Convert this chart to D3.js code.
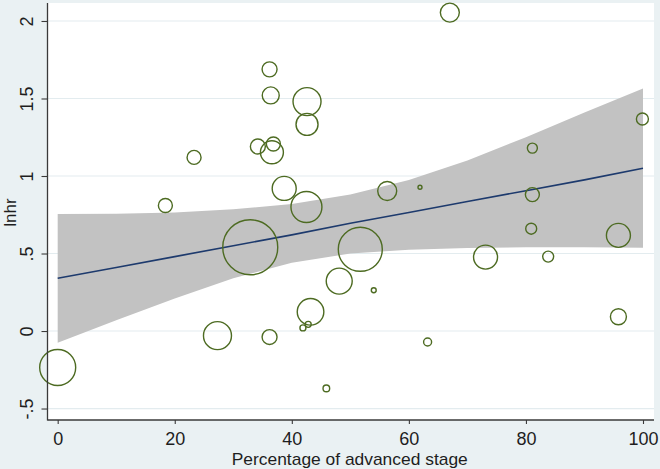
<!DOCTYPE html>
<html>
<head>
<meta charset="utf-8">
<script src="https://cdn.jsdelivr.net/npm/d3@7"></script>
<style>
  html, body { margin: 0; padding: 0; background: #eaf1f3; }
  svg { display: block; }
  text { font-family: "Liberation Sans", Arial, sans-serif; fill: #1e1e1e; }
</style>
</head>
<body>
<svg id="chart" width="660" height="469"></svg>
<script>
// ---- data ----
const pctAdvanced = [0, 18.4, 23.3, 27.3, 32.9, 34.2, 36.2, 36.4, 36.85, 36.6, 36.2, 38.7, 42.6, 42.6, 42.5, 43.2, 41.9, 42.8, 45.9, 48.1, 51.7, 54.0, 56.3, 61.9, 63.2, 67.0, 73.1, 81.1, 81.1, 80.9, 83.8, 95.8, 95.8, 99.9];
const lnhr = [-0.235, 0.81, 1.12, -0.03, 0.54, 1.19, 1.688, 1.52, 1.206, 1.153, -0.039, 0.92, 1.48, 1.333, 0.80, 0.124, 0.02, 0.043, -0.37, 0.322, 0.527, 0.263, 0.903, 0.927, -0.071, 2.054, 0.477, 1.18, 0.88, 0.66, 0.48, 0.617, 0.092, 1.368];
const weight = [324, 49, 49, 196, 756, 56, 56, 72, 49, 132, 56, 144, 196, 121, 240, 177, 9, 9, 11, 169, 484, 6, 90, 4, 16, 90, 144, 25, 49, 30, 30, 144, 64, 36];

const fitX = [0, 10, 20, 30, 40, 50, 60, 70, 80, 90, 100];
const fitY = [0.34, 0.41, 0.48, 0.55, 0.62, 0.695, 0.765, 0.835, 0.905, 0.975, 1.05];
const ciUpper = [0.755, 0.757, 0.765, 0.785, 0.82, 0.88, 0.975, 1.10, 1.25, 1.41, 1.565];
const ciLower = [-0.075, 0.07, 0.21, 0.34, 0.44, 0.50, 0.525, 0.535, 0.54, 0.54, 0.537];

const xTicks = [0, 20, 40, 60, 80, 100];
const yTicks = [-0.5, 0, 0.5, 1, 1.5, 2];
const yTickLabels = ["-.5", "0", ".5", "1", "1.5", "2"];
const xTitle = "Percentage of advanced stage";
const yTitle = "lnhr";

// ---- layout ----
const svg = d3.select("#chart");
const L = 47.5, R = 654, T = 3, B = 420;

const x = d3.scaleLinear().domain([-1.74, 101.88]).range([L, R]);
const y = d3.scaleLinear().domain([-0.574, 2.116]).range([B, T]);
const r = d3.scaleSqrt().domain([0, 100]).range([0, 10]);

// plot background
svg.append("rect").attr("x", L).attr("y", T).attr("width", R - L).attr("height", B - T).attr("fill", "#ffffff");

// gridlines
svg.append("g").selectAll("line").data(yTicks).join("line")
  .attr("x1", L).attr("x2", R)
  .attr("y1", d => y(d)).attr("y2", d => y(d))
  .attr("stroke", "#e3ecef").attr("stroke-width", 1.2);

// CI band
const band = fitX.map((v, i) => ({x: v, lo: ciLower[i], hi: ciUpper[i]}));
svg.append("path").datum(band)
  .attr("d", d3.area().x(d => x(d.x)).y0(d => y(d.lo)).y1(d => y(d.hi)))
  .attr("fill", "#c2c2c2");

// fitted line
svg.append("path").datum(fitX.map((v, i) => [v, fitY[i]]))
  .attr("d", d3.line().x(d => x(d[0])).y(d => y(d[1])))
  .attr("fill", "none").attr("stroke", "#1d3a6d").attr("stroke-width", 1.6);

// bubbles
svg.append("g").selectAll("circle").data(pctAdvanced.map((v, i) => ({x: v, y: lnhr[i], w: weight[i]})))
  .join("circle")
  .attr("cx", d => x(d.x)).attr("cy", d => y(d.y)).attr("r", d => r(d.w))
  .attr("fill", "none").attr("stroke", "#4d6b22").attr("stroke-width", 1.4);

// axes
const yAxis = d3.axisLeft(y).tickValues(yTicks).tickSize(6).tickPadding(0).tickFormat((d, i) => yTickLabels[i]);
const gy = svg.append("g").attr("transform", `translate(${L},0)`).call(yAxis);
gy.select(".domain").attr("d", `M0,${T}V${B + 0.5}`).attr("stroke", "#3a3a3a").attr("stroke-width", 1.3);
gy.selectAll(".tick line").attr("stroke", "#3a3a3a").attr("stroke-width", 1.1);
gy.selectAll(".tick text")
  .attr("x", null).attr("dy", null)
  .attr("transform", "translate(-14.5,0) rotate(-90)")
  .attr("text-anchor", "middle")
  .style("font-size", "18px").style("font-family", "'Liberation Sans', Arial, sans-serif").attr("fill", "#1e1e1e");

const xAxis = d3.axisBottom(x).tickValues(xTicks).tickSize(4).tickPadding(0).tickFormat(d3.format("d"));
const gx = svg.append("g").attr("transform", `translate(0,${B})`).call(xAxis);
gx.select(".domain").attr("d", `M${L},0H${R}`).attr("stroke", "#3a3a3a").attr("stroke-width", 1.3);
gx.selectAll(".tick line").attr("stroke", "#3a3a3a").attr("stroke-width", 1.1);
gx.selectAll(".tick text")
  .attr("y", 25).attr("dy", null)
  .style("font-size", "18px").style("font-family", "'Liberation Sans', Arial, sans-serif").attr("fill", "#1e1e1e");

// titles
svg.append("text").attr("x", (L + R) / 2 - 1).attr("y", 465)
  .attr("text-anchor", "middle").style("font-size", "17px")
  .attr("textLength", 236).attr("lengthAdjust", "spacingAndGlyphs")
  .text(xTitle);

svg.append("text").attr("transform", `translate(16,${(T + B) / 2 + 1}) rotate(-90)`)
  .attr("text-anchor", "middle").style("font-size", "17px")
  .text(yTitle);
</script>
</body>
</html>
